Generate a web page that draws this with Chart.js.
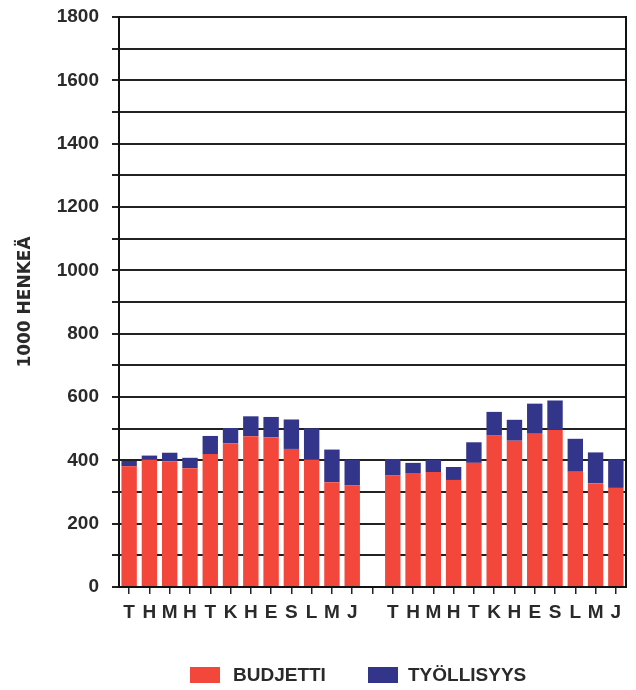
<!DOCTYPE html>
<html>
<head>
<meta charset="utf-8">
<script src="https://cdn.jsdelivr.net/npm/chart.js@4/dist/chart.umd.min.js"></script>
<style>
    html, body { margin: 0; padding: 0; background: #fff; }
    #wrap { position: relative; width: 636px; height: 690px; }
    .legend-item { position: absolute; top: 664px; font: bold 19px "Liberation Sans", Arial, sans-serif; color: #2a2a2a; line-height: 22px; }
    .swatch { position: absolute; width: 30px; height: 16px; }
</style>
</head>
<body>
<div id="wrap">
    <canvas id="chart" width="636" height="690"></canvas>
    <div class="swatch" style="left:190px; top:667px; background:#f4473b;"></div>
    <div class="legend-item" style="left:233px;">BUDJETTI</div>
    <div class="swatch" style="left:368px; top:667px; background:#33358a;"></div>
    <div class="legend-item" style="left:408px;">TYÖLLISYYS</div>
</div>
<script>
// Month initials (Finnish), two years side by side
const months = ['T', 'H', 'M', 'H', 'T', 'K', 'H', 'E', 'S', 'L', 'M', 'J'];

// 1000 persons
const budjetti1 = [381, 403, 397, 375, 420, 454, 476, 473, 436, 403, 331, 321];
const tyollisyys1 = [17, 12, 27, 33, 57, 48, 63, 64, 93, 98, 103, 81];
const budjetti2 = [352, 360, 363, 338, 392, 478, 462, 484, 496, 364, 328, 313];
const tyollisyys2 = [52, 32, 39, 41, 65, 75, 66, 95, 93, 104, 97, 90];

const yMin = 0;
const yMax = 1800;
const yStep = 100;
const yLabelStep = 200;

// empty slot between the two years
const labels = [...months, '', ...months];
const budjetti = [...budjetti1, null, ...budjetti2];
const tyollisyys = [...tyollisyys1, null, ...tyollisyys2];

const FONT = '"Liberation Sans", Arial, sans-serif';
const TEXT = '#2a2a2a';

const ctx = document.getElementById('chart').getContext('2d');
new Chart(ctx, {
    type: 'bar',
    data: {
        labels: labels,
        datasets: [
            {
                label: 'BUDJETTI',
                data: budjetti,
                backgroundColor: '#f4473b',
                barPercentage: 0.76,
                categoryPercentage: 1.0
            },
            {
                label: 'TYÖLLISYYS',
                data: tyollisyys,
                backgroundColor: '#33358a',
                barPercentage: 0.76,
                categoryPercentage: 1.0
            }
        ]
    },
    options: {
        responsive: false,
        animation: false,
        layout: {
            padding: { top: 17, bottom: 72, left: 0, right: 0 }
        },
        plugins: {
            legend: { display: false },
            tooltip: { enabled: false }
        },
        scales: {
            x: {
                stacked: true,
                z: 1,
                grid: {
                    display: true,
                    drawOnChartArea: false,
                    drawTicks: true,
                    tickLength: 7,
                    offset: false,
                    color: '#222',
                    lineWidth: 1.5
                },
                border: { display: true, color: '#111', width: 2 },
                ticks: {
                    autoSkip: false,
                    maxRotation: 0,
                    padding: 7,
                    color: TEXT,
                    font: { family: FONT, size: 19, weight: 'bold' }
                },
                afterFit: function(scale) {
                    scale.height = 31;
                    scale.paddingLeft = 0;
                    scale.paddingRight = 0;
                }
            },
            y: {
                stacked: true,
                z: 1,
                min: yMin,
                max: yMax,
                grid: {
                    color: '#222',
                    lineWidth: 2,
                    drawTicks: true,
                    tickLength: 7
                },
                border: { display: true, color: '#111', width: 2 },
                ticks: {
                    stepSize: yStep,
                    padding: 13,
                    color: TEXT,
                    font: { family: FONT, size: 19, weight: 'bold' },
                    callback: function(value) {
                        return value % yLabelStep === 0 ? value : '';
                    }
                },
                title: {
                    display: true,
                    text: '1000 HENKEÄ',
                    color: TEXT,
                    padding: { top: 15, bottom: 0 },
                    font: { family: '"DejaVu Sans", sans-serif', size: 17, weight: 'bold' }
                },
                afterFit: function(scale) {
                    scale.width = 119;
                    scale.paddingTop = 0;
                    scale.paddingBottom = 0;
                }
            },
            yRight: {
                position: 'right',
                min: yMin,
                max: yMax,
                grid: { display: false },
                ticks: { display: false },
                border: { display: true, color: '#111', width: 2 },
                afterFit: function(scale) {
                    scale.width = 10;
                    scale.paddingTop = 0;
                    scale.paddingBottom = 0;
                }
            }
        }
    }
});
</script>
</body>
</html>
